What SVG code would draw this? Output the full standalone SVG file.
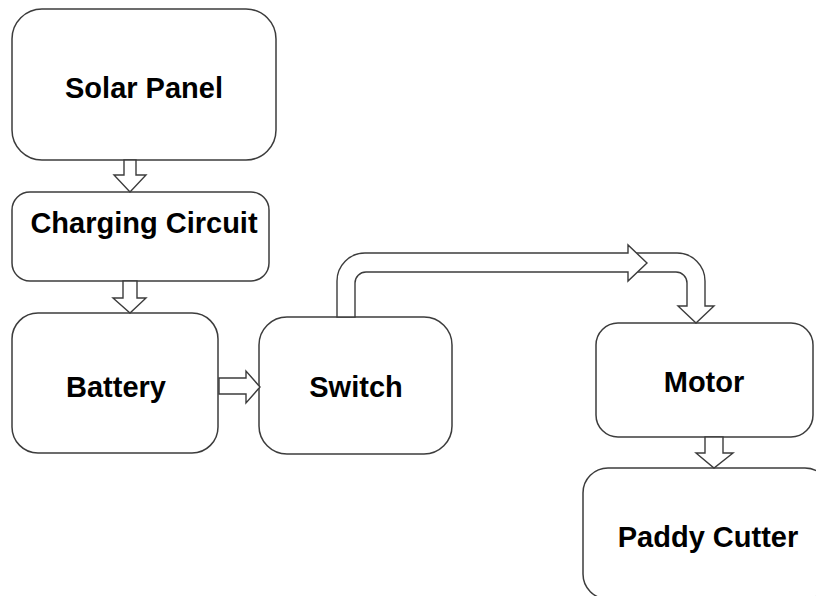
<svg xmlns="http://www.w3.org/2000/svg" width="816" height="596" viewBox="0 0 816 596">
<style>
.box{fill:#fff;stroke:#3c3c3c;stroke-width:1.5}
.arr{fill:#fff;stroke:#3c3c3c;stroke-width:1.4;stroke-linejoin:miter}
.lbl{font-family:"Liberation Sans",Arial,sans-serif;font-weight:bold;font-size:29px;fill:#000;text-anchor:middle}
</style>
<rect width="816" height="596" fill="#fff"/>
<g id="solar-panel"><rect class="box" x="12" y="9" width="264" height="151" rx="30"/><text class="lbl" x="144" y="98">Solar Panel</text></g>
<g id="charging-circuit"><rect class="box" x="12" y="192" width="257" height="89" rx="18"/><text class="lbl" x="144" y="233">Charging Circuit</text></g>
<g id="battery"><rect class="box" x="12" y="313" width="206" height="140" rx="26"/><text class="lbl" x="116" y="397">Battery</text></g>
<g id="switch"><rect class="box" x="259" y="317" width="193" height="137" rx="28"/><text class="lbl" x="356" y="397">Switch</text></g>
<g id="motor"><rect class="box" x="596" y="323" width="217" height="114" rx="22"/><text class="lbl" x="704" y="392">Motor</text></g>
<g id="paddy-cutter"><rect class="box" x="583" y="468" width="247" height="131" rx="25"/><text class="lbl" x="708" y="547">Paddy Cutter</text></g>
<g id="connectors">
<path class="arr" d="M124,160 L136,160 L136,175 L146,175 L130,192 L114,175 L124,175 Z"/>
<path class="arr" d="M123,281 L137,281 L137,298 L146,298 L130,313 L113,298 L123,298 Z"/>
<path class="arr" d="M219,378 L246,378 L246,371 L260,387 L246,403 L246,394 L219,394 Z"/>
<path class="arr" d="M632,253 L677,253 A28,28 0 0 1 705,281 L705,306 L714,306 L696,323 L678,306 L687,306 L687,283 A11,11 0 0 0 676,272 L632,272 Z"/>
<path class="arr" d="M337,317 L337,281 A28,28 0 0 1 365,253 L628,253 L628,245 L647,263 L628,281 L628,272 L366,272 A11,11 0 0 0 355,283 L355,317 Z"/>
<path class="arr" d="M705,437 L723,437 L723,453 L733,453 L714,468 L696,453 L705,453 Z"/>
</g>
</svg>
